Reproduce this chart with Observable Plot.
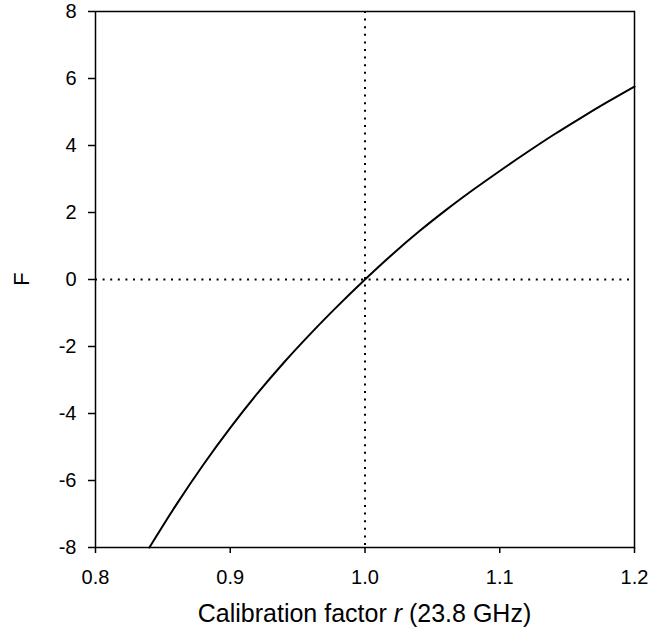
<!DOCTYPE html>
<html>
<head>
<meta charset="utf-8">
<script src="https://cdn.jsdelivr.net/npm/d3@7"></script>
<script src="https://cdn.jsdelivr.net/npm/@observablehq/plot@0.6"></script>
<style>
  html, body { margin: 0; padding: 0; background: white; }
</style>
</head>
<body>
<div id="chart"></div>
<script>
// Calibration factor r (23.8 GHz)
const rValues = [0.84, 0.86, 0.88, 0.90, 0.92, 0.94, 0.96, 0.98, 1.00, 1.02, 1.04, 1.06, 1.08, 1.10, 1.12, 1.14, 1.16, 1.18, 1.20];
// F
const fValues = [-8.0, -6.72, -5.53, -4.43, -3.41, -2.47, -1.60, -0.78, 0.0, 0.74, 1.43, 2.07, 2.67, 3.24, 3.79, 4.32, 4.82, 5.30, 5.76];
const xTicks = [0.8, 0.9, 1.0, 1.1, 1.2];
const yTicks = [-8, -6, -4, -2, 0, 2, 4, 6, 8];
const refR = [1.0];
const refF = [0];

const data = rValues.map((r, i) => ({r, f: fValues[i]}));

const W = 661, H = 639;
const mL = 95, mR = 27, mT = 11, mB = 92;

const chart = Plot.plot({
  width: W,
  height: H,
  marginTop: mT,
  marginRight: mR,
  marginBottom: mB,
  marginLeft: mL,
  x: {domain: [0.8, 1.2]},
  y: {domain: [-8, 8]},
  style: {fontFamily: "'Liberation Sans', Arial, sans-serif", fontSize: "20px", color: "black", background: "white"},
  marks: [
    Plot.ruleX(refR, {stroke: "black", strokeWidth: 2, strokeDasharray: "2,5.6"}),
    Plot.ruleY(refF, {stroke: "black", strokeWidth: 2, strokeDasharray: "2,5.6"}),
    Plot.line(data, {x: "r", y: "f", curve: "monotone-x", stroke: "black", strokeWidth: 2}),
    Plot.frame({stroke: "black", strokeWidth: 1.5}),
    Plot.axisX({ticks: xTicks, tickFormat: d => d.toFixed(1), tickSize: 6, tickPadding: 16, label: null, strokeWidth: 1.5}),
    Plot.axisY({ticks: yTicks, tickFormat: d => String(d), tickSize: 7, tickPadding: 12, label: null, strokeWidth: 1.5})
  ]
});

document.getElementById("chart").appendChild(chart);

const svg = d3.select(chart);
const xl = svg.append("text")
  .attr("x", (mL + (W - mR)) / 2)
  .attr("y", 622)
  .attr("text-anchor", "middle")
  .attr("font-size", 25)
  .attr("fill", "black");
xl.append("tspan").text("Calibration factor ");
xl.append("tspan").attr("font-style", "italic").text("r");
xl.append("tspan").text(" (23.8 GHz)");

svg.append("text")
  .attr("transform", `translate(21,${(mT + (H - mB)) / 2}) rotate(-90)`)
  .attr("text-anchor", "middle")
  .attr("dy", "0.35em")
  .attr("font-size", 22)
  .attr("fill", "black")
  .text("F");
</script>
</body>
</html>
